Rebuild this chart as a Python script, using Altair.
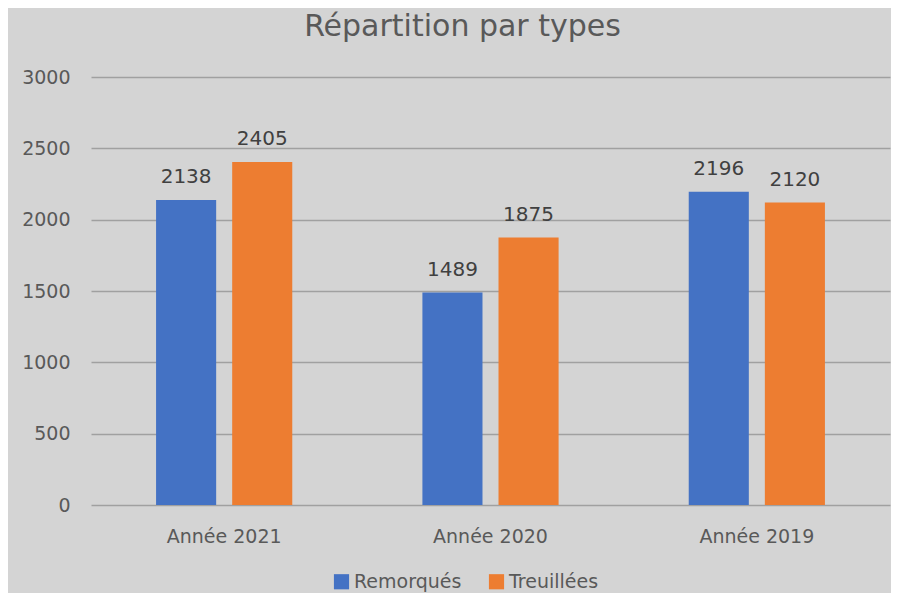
import altair as alt
import pandas as pd

categories = ["Année 2021", "Année 2020", "Année 2019"]
series = ["Remorqués", "Treuillées"]
remorques = [2138, 1489, 2196]
treuillees = [2405, 1875, 2120]

rows = []
for c, r, t in zip(categories, remorques, treuillees):
    rows.append({"annee": c, "type": series[0], "valeur": r})
    rows.append({"annee": c, "type": series[1], "valeur": t})
df = pd.DataFrame(rows)

FONT = "DejaVu Sans"
W, H = 799, 428
PAD = {"left": 83, "top": 69, "right": 1, "bottom": 88}

x = alt.X("annee:N", sort=categories, title=None,
          scale=alt.Scale(paddingInner=0, paddingOuter=0),
          axis=alt.Axis(labelAngle=0, labelFontSize=19, labelColor="#595959", labelFont=FONT,
                        labelPadding=22, ticks=False, domain=False, grid=False))
xo = alt.XOffset("type:N", sort=series,
                 scale=alt.Scale(paddingInner=0.2105, paddingOuter=0.855))
y = alt.Y("valeur:Q", title=None,
          scale=alt.Scale(domain=[0, 3000]),
          axis=alt.Axis(values=[0, 500, 1000, 1500, 2000, 2500, 3000], format="d",
                        labelFontSize=19, labelColor="#595959", labelFont=FONT,
                        labelPadding=21, ticks=False, domain=False,
                        gridColor="#a0a0a0", gridWidth=1.6))
color = alt.Color("type:N", sort=series,
                  scale=alt.Scale(domain=series, range=["#4472C4", "#ED7D31"]),
                  legend=alt.Legend(title=None, orient="none", direction="horizontal",
                                    legendX=241, legendY=495, symbolType="square",
                                    symbolSize=230, symbolStrokeWidth=0, labelFontSize=19,
                                    labelFont=FONT, labelColor="#595959", columnPadding=25,
                                    labelOffset=3))

base = alt.Chart(df)
bars = base.mark_bar().encode(x=x, xOffset=xo, y=y, color=color)
labels = base.mark_text(fontSize=20, font=FONT, color="#404040", dy=-17,
                        baseline="alphabetic").encode(
    x=x, xOffset=xo, y=y, text=alt.Text("valeur:Q", format="d"))

chart = alt.layer(bars, labels).properties(
    width=W, height=H,
    title=alt.Title("Répartition par types", fontSize=30, font=FONT, fontWeight="normal",
                    color="#595959", anchor="middle", dx=-28, offset=26),
    autosize=alt.AutoSizeParams(type="none"),
    padding=PAD,
    background="#d4d4d4",
).configure_view(stroke=None)

chart.save("out.html", embed_options={"renderer": "svg", "actions": False})
